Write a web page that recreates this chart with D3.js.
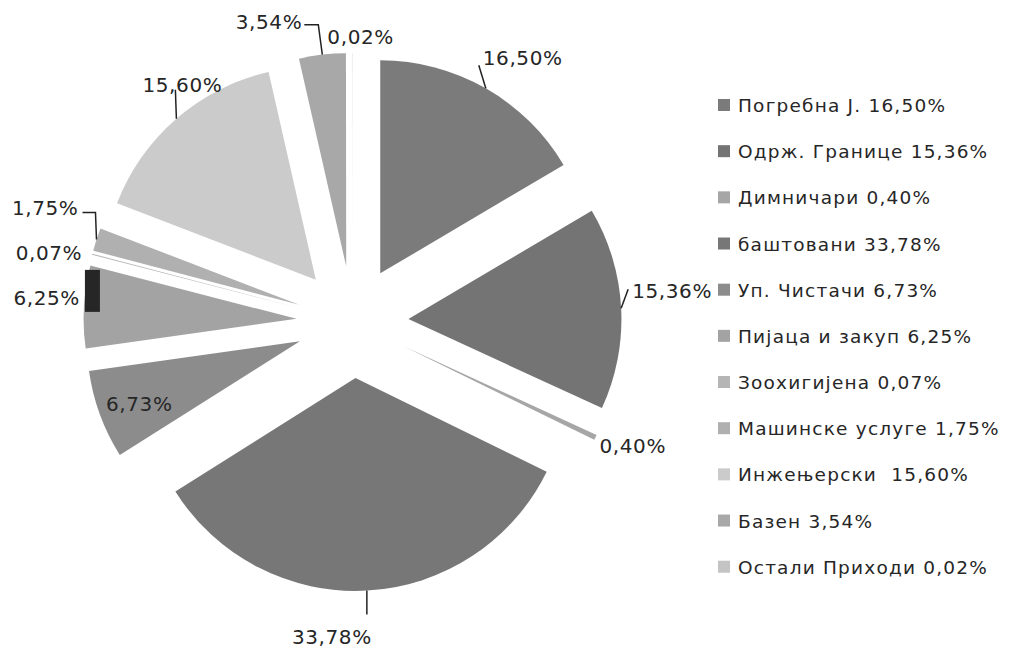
<!DOCTYPE html>
<html>
<head>
<meta charset="utf-8">
<script src="https://cdn.jsdelivr.net/npm/d3@7"></script>
<style>
  body { margin: 0; background: #fff; }
  svg { display: block; }
  text { font-family: "DejaVu Sans", Verdana, sans-serif; fill: #262626; }
</style>
</head>
<body>
<script>
// Data
var categories = ["Погребна Ј.", "Одрж. Границе", "Димничари", "баштовани", "Уп. Чистачи",
                  "Пијаца и закуп", "Зоохигијена", "Машинске услуге", "Инжењерски ", "Базен", "Остали Приходи"];
var values = [16.50, 15.36, 0.40, 33.78, 6.73, 6.25, 0.07, 1.75, 15.60, 3.54, 0.02];
var colors = ["#7b7b7b", "#747474", "#a6a6a6", "#777777", "#8c8c8c", "#a3a3a3",
              "#b5b5b5", "#b0b0b0", "#cbcbcb", "#a8a8a8", "#c4c4c4"];

var fmt = function(v){ return v.toFixed(2).replace(".", ",") + "%"; };

/***********************************************************************************/
// Layout

var width = 1013, height = 648;
var cx = 352.5, cy = 322, R = 213, explode = 56;

// label offsets relative to the outer mid point of each slice
var labelLayout = [
  { dx: -3,  dy: -23, anchor: "start",  leader: [[-7, -23]] },
  { dx: 11,  dy: -10, anchor: "start",  leader: [[7, -19]] },
  { dx: 4,   dy: 16,  anchor: "start",  leader: null },
  { dx: -35, dy: 53,  anchor: "middle", leader: [[0, 24]] },
  { dx: 6,   dy: -4,  anchor: "start",  leader: null },
  { dx: -4,  dy: -2,  anchor: "end",    leader: null },
  { dx: -10, dy: 6,   anchor: "end",    leader: null },
  { dx: -18, dy: -24, anchor: "end",    leader: [[-1, -27], [-14, -27]] },
  { dx: 6,   dy: -27, anchor: "middle", leader: [[-1, -29]] },
  { dx: -20, dy: -26, anchor: "end",    leader: [[-4, -30], [-18, -30]] },
  { dx: -25, dy: -9,  anchor: "start",  leader: null }
];

var svg = d3.select("body").append("svg")
  .attr("width", width).attr("height", height);

var pie = d3.pie().sort(null).value(function(d){ return d; });
var arcs = pie(values);
var arc = d3.arc().innerRadius(0).outerRadius(R);

function midAngle(d){ return (d.startAngle + d.endAngle) / 2; }
function offset(d, r){
  var a = midAngle(d);
  return [r * Math.sin(a), -r * Math.cos(a)];
}

/***********************************************************************************/
// Slices

var g = svg.append("g").attr("transform", "translate(" + cx + "," + cy + ")");

g.selectAll("path.slice").data(arcs).enter().append("path")
  .attr("class", "slice")
  .attr("d", arc)
  .attr("fill", function(d, i){ return colors[i]; })
  .attr("transform", function(d){
    var o = offset(d, explode);
    return "translate(" + o[0] + "," + o[1] + ")";
  });

// dark mark at the edge of the 6,25% slice
var m6 = offset(arcs[5], explode + R);
g.append("rect")
  .attr("x", m6[0] + 1).attr("y", m6[1] - 37)
  .attr("width", 15).attr("height", 42)
  .attr("fill", "#262626");

/***********************************************************************************/
// Labels & leaders

arcs.forEach(function(d, i){
  var p = offset(d, explode + R);
  var L = labelLayout[i];
  if (L.leader) {
    var pts = [p].concat(L.leader.map(function(q){ return [p[0] + q[0], p[1] + q[1]]; }));
    g.append("path")
      .attr("d", d3.line()(pts))
      .attr("fill", "none")
      .attr("stroke", "#222")
      .attr("stroke-width", 1.5);
  }
  g.append("text")
    .attr("x", p[0] + L.dx)
    .attr("y", p[1] + L.dy)
    .attr("text-anchor", L.anchor)
    .style("font-size", "20px")
    .style("letter-spacing", "0.6px")
    .text(fmt(values[i]));
});

/***********************************************************************************/
// Legend

var legendY = d3.scalePoint().domain(d3.range(categories.length)).range([105, 566.7]);
var legend = svg.append("g");
var items = legend.selectAll("g").data(categories).enter().append("g")
  .attr("transform", function(d, i){ return "translate(718," + legendY(i) + ")"; });

items.append("rect")
  .attr("x", 0).attr("y", -6).attr("width", 12).attr("height", 12)
  .attr("fill", function(d, i){ return colors[i]; });

items.append("text")
  .attr("x", 20).attr("y", 7)
  .style("font-size", "18.5px")
  .style("letter-spacing", "1.2px")
  .style("white-space", "pre")
  .text(function(d, i){ return d + " " + fmt(values[i]); });
</script>
</body>
</html>
